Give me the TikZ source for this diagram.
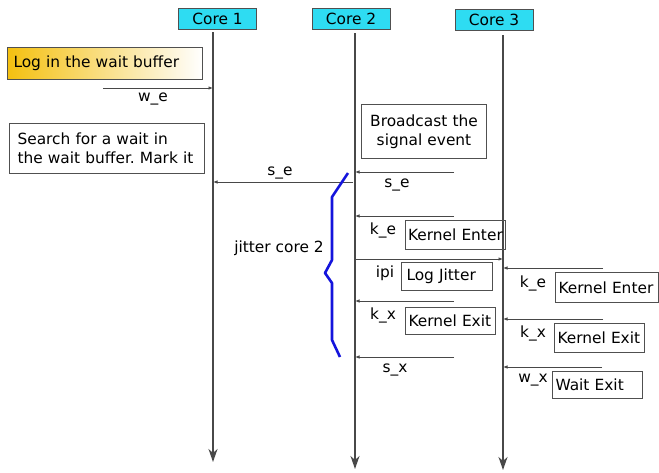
\documentclass[tikz,border=0pt]{standalone}
\usepackage{fontspec}
\setmainfont{DejaVu Sans}
\frenchspacing
\usetikzlibrary{arrows.meta}
\definecolor{linegray}{HTML}{484848}
\definecolor{boxgray}{HTML}{505050}
\definecolor{corecyan}{HTML}{2EDCF2}
\definecolor{gold}{HTML}{F4C010}
\definecolor{braceblue}{HTML}{1414DC}
\begin{document}
\begin{tikzpicture}[x=1pt,y=-1pt,
  font=\fontsize{15.4}{19.5}\selectfont,
  msg/.style={draw=linegray, line width=1pt, -{Latex[length=4.5pt,width=3.5pt]}},
  life/.style={draw=linegray, line width=1.5pt, -{Stealth[length=13pt,width=9pt,inset=4pt]}},
  core/.style={draw=boxgray, fill=corecyan, line width=1pt, minimum width=78pt, minimum height=21pt, inner sep=0pt},
  note/.style={draw=boxgray, line width=1pt, anchor=north west, align=left, inner xsep=3pt, inner ysep=1pt},
  lab/.style={inner sep=0pt},
]
\useasboundingbox (0,0) rectangle (659,472);

% header boxes
\node[core] (c1) at (217.5,18.5) {Core 1};
\node[core] (c2) at (351,18.5) {Core 2};
\node[core] (c3) at (494,19.5) {Core 3};

% lifelines
\coordinate (t1) at (213,32);  \coordinate (b1) at (213,462);
\coordinate (t2) at (355,33);  \coordinate (b2) at (355,469);
\coordinate (t3) at (503,35);  \coordinate (b3) at (503,470);
\draw[life] (t1) -- (b1);
\draw[life] (t2) -- (b2);
\draw[life] (t3) -- (b3);

% left notes
\node[note, left color=gold, right color=white, text width=183pt, inner xsep=6pt, minimum height=32pt] (log) at (7,47) {Log in the wait buffer};
\node[note, text width=179pt, inner xsep=8pt, minimum height=50pt] (search) at (9,123) {Search for a wait in\\the wait buffer. Mark it};
\node[note, align=center, text width=113pt, inner xsep=6pt, minimum height=54pt] (bcast) at (361,104) {Broadcast the\\signal event};

% core 2 notes
\node[note, text width=95pt, inner xsep=2.5pt, minimum height=29pt] (ke2) at (405,220) {Kernel Enter};
\node[note, text width=81pt, inner xsep=5pt, minimum height=28pt] (lj) at (401,262) {Log Jitter};
\node[note, text width=84pt, inner xsep=3pt, minimum height=27pt] (kx2) at (405,307) {Kernel Exit};
% core 3 notes
\node[note, text width=97pt, inner xsep=3pt, minimum height=30pt] (ke3) at (555,272) {Kernel Enter};
\node[note, text width=84pt, inner xsep=3pt, minimum height=29pt] (kx3) at (554,323) {Kernel Exit};
\node[note, text width=84pt, inner xsep=3pt, minimum height=27pt] (wx) at (552,371) {Wait Exit};

% messages
\coordinate (we) at (103,88);   \draw[msg] (we) -- (we -| t1);
\coordinate (seL) at (353,182); \draw[msg] (seL) -- (seL -| t1);
\coordinate (se2) at (454,172); \draw[msg] (se2) -- (se2 -| t2);
\coordinate (kee2) at (454,216); \draw[msg] (kee2) -- (kee2 -| t2);
\coordinate (ipi) at (355,259); \draw[msg] (ipi) -- (ipi -| t3);
\coordinate (kxx2) at (454,301); \draw[msg] (kxx2) -- (kxx2 -| t2);
\coordinate (sx2) at (454,357); \draw[msg] (sx2) -- (sx2 -| t2);
\coordinate (kee3) at (603,268); \draw[msg] (kee3) -- (kee3 -| t3);
\coordinate (kxx3) at (603,319); \draw[msg] (kxx3) -- (kxx3 -| t3);
\coordinate (wxx) at (602,367); \draw[msg] (wxx) -- (wxx -| t3);

% message labels
\node[lab] (lwe) at (153,99) {w\_e};
\node[lab] (lseL) at (280,173) {s\_e};
\node[lab] (lse2) at (397,185) {s\_e};
\node[lab] (lke2) at (383,230) {k\_e};
\node[lab] (lipi) at (385,273) {ipi};
\node[lab] (lkx2) at (383,315) {k\_x};
\node[lab] (lsx2) at (395,370) {s\_x};
\node[lab] (lke3) at (533,283) {k\_e};
\node[lab] (lkx3) at (533,333) {k\_x};
\node[lab] (lwx) at (533,380) {w\_x};

% jitter brace
\draw[braceblue, line width=2.6pt, line join=round]
  (348,173) -- (332,197) -- (332,260) -- (325,273) -- (332,283) -- (332,340) -- (340,357);
\node[lab] (jit) at (279,248) {jitter core 2};
\end{tikzpicture}
\end{document}
